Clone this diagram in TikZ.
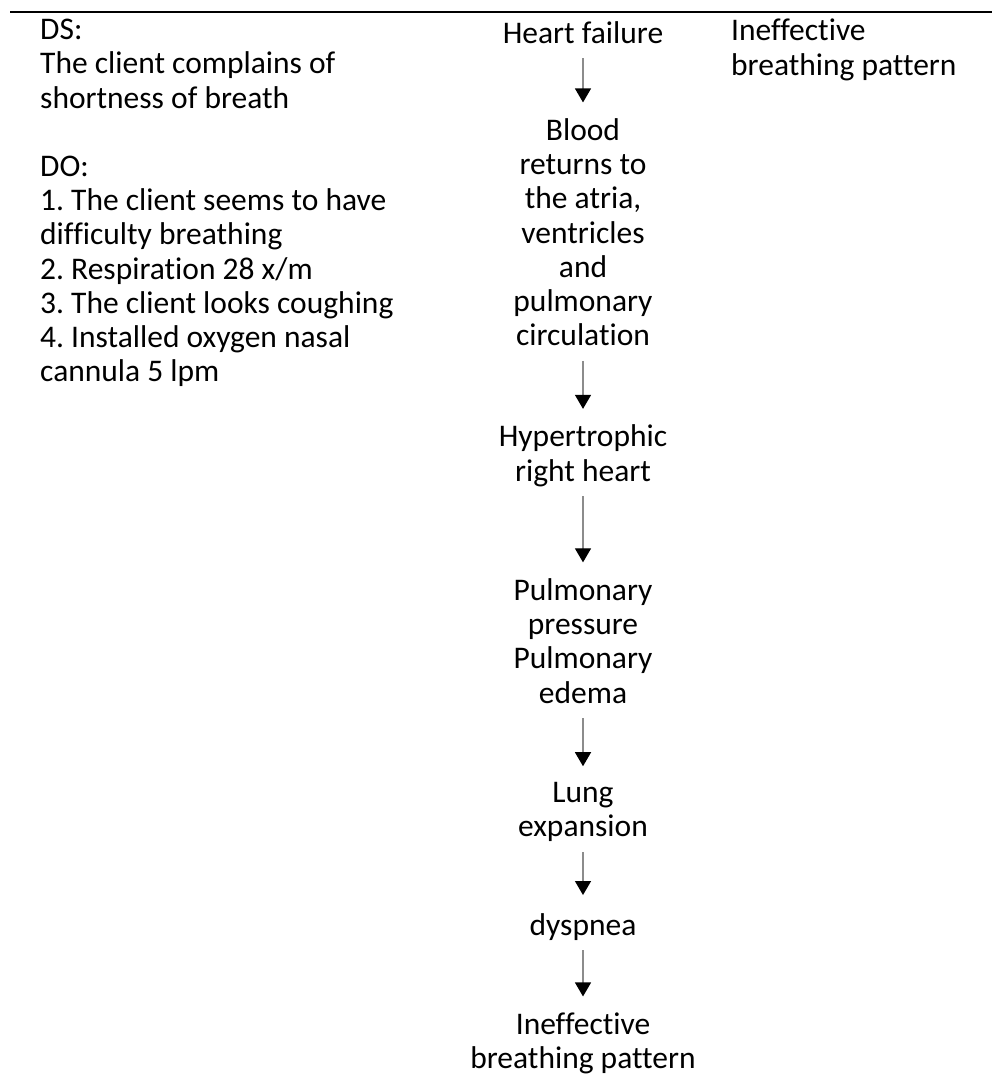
\documentclass[tikz,border=0pt]{standalone}
\usepackage{fontspec}
\setmainfont{Carlito}[Ligatures=CommonOff]
\usetikzlibrary{arrows.meta,positioning}
\definecolor{shaftgray}{RGB}{140,140,140}
\newcommand{\linestrut}{\rule[-10pt]{0pt}{34pt}}

\begin{document}
\begin{tikzpicture}[x=1pt,y=-1pt,node distance=67pt,
    txt/.style={inner sep=0pt,font=\fontsize{31.5}{34.2}\selectfont\frenchspacing,
      execute at begin node=\linestrut,execute at end node=\linestrut},
    flow/.style={draw=shaftgray,line width=1.3pt,
      -{Triangle[black,length=14pt,width=16pt]},
      shorten <=5pt,shorten >=16pt}]
  \useasboundingbox (0,0) rectangle (992,1086);
  \draw[line width=2pt] (10,12.5) -- (992,12.5);
  % data column
  \node(data)[txt,align=left,anchor=north west] at (40,19)
    {DS:\\The client complains of\\shortness of breath\\[34.2pt]
     DO:\\1. The client seems to have\\difficulty breathing\\
     2. Respiration 28 x/m\\3. The client looks coughing\\
     4. Installed oxygen nasal\\cannula 5 lpm};
  % diagnosis column
  \node(diag)[txt,align=left,anchor=north west] at (731,19)
    {Ineffective\\breathing pattern};
  % pathway column
  \node(hf)[txt,align=center,anchor=north] at (583,19) {Heart failure};
  \node(blood)[txt,align=center,below=65pt of hf]
    {Blood\\returns to\\the atria,\\ventricles\\and\\pulmonary\\circulation};
  \node(hyper)[txt,align=center,below=69pt of blood] {Hypertrophic\\right heart};
  \node(pulm)[txt,align=center,below=87pt of hyper]
    {Pulmonary\\pressure\\Pulmonary\\edema};
  \node(lung)[txt,align=center,below=69pt of pulm] {Lung\\expansion};
  \node(dysp)[txt,align=center,below=64pt of lung] {dyspnea};
  \node(ineff)[txt,align=center,below=of dysp] {Ineffective\\breathing pattern};
  \path[flow] (hf) edge (blood);
  \path[flow] (blood) edge (hyper);
  \path[flow] (hyper) edge (pulm);
  \path[flow] (pulm) edge (lung);
  \path[flow] (lung) edge (dysp);
  \path[flow] (dysp) edge (ineff);
\end{tikzpicture}
\end{document}
